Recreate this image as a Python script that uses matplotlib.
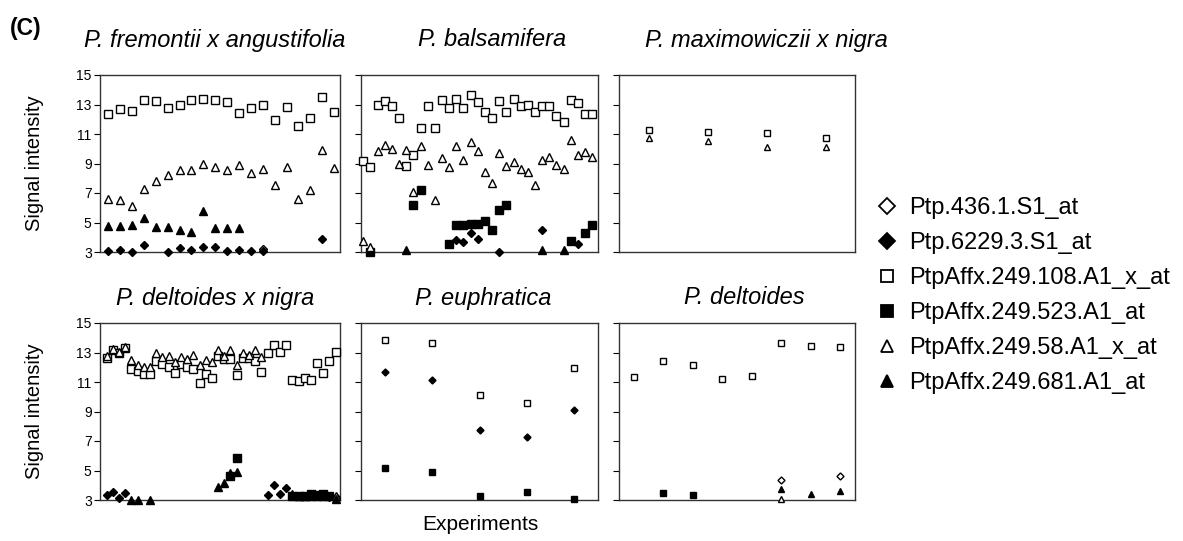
import numpy as np
import matplotlib
matplotlib.use("Agg")
import matplotlib.pyplot as plt
from matplotlib.lines import Line2D

plt.rcParams['font.family'] = ['Liberation Sans', 'DejaVu Sans']

nan = np.nan

# probe set names (legend order)
probes = ["Ptp.436.1.S1_at", "Ptp.6229.3.S1_at", "PtpAffx.249.108.A1_x_at",
          "PtpAffx.249.523.A1_at", "PtpAffx.249.58.A1_x_at", "PtpAffx.249.681.A1_at"]

titles = ["P. fremontii x angustifolia", "P. balsamifera", "P. maximowiczii x nigra",
          "P. deltoides x nigra", "P. euphratica", "P. deltoides"]

# --- P. fremontii x angustifolia (20 experiments)
fa_436 = [nan]*13 + [3.2] + [nan]*6
fa_6229 = [3.07, 3.15, 3.0, 3.5, nan, 3.0, 3.27, 3.15, 3.33, 3.37, 3.07, 3.15, 3.07, 3.07,
           nan, nan, nan, nan, 3.85, nan]
fa_108 = [12.33, 12.67, 12.58, 13.3, 13.23, 12.74, 13.0, 13.3, 13.37, 13.3, 13.14, 12.4,
          12.74, 13.0, 11.94, 12.83, 11.54, 12.1, 13.48, 12.5]
fa_523 = [nan]*20
fa_58 = [6.56, 6.5, 6.1, 7.3, 7.8, 8.2, 8.55, 8.55, 9.0, 8.77, 8.55, 8.9, 8.37, 8.6, 7.57,
         8.77, 6.56, 7.23, 9.9, 8.7]
fa_681 = [4.75, 4.75, 4.8, 5.3, 4.7, 4.7, 4.5, 4.35, 5.75, 4.6, 4.6, 4.6] + [nan]*8

# --- P. balsamifera (33 experiments)
ba_436 = [nan]*33
ba_6229 = [nan]*13 + [3.84, 3.68, 4.31, 3.91, nan, nan, 3.0, nan, nan, nan, nan, nan, 4.47,
                      nan, nan, nan, nan, 3.52, nan, nan]
ba_108 = [9.16, 8.77, 12.96, 13.23, 12.92, 12.1, 8.82, 9.57, 11.42, 12.92, 11.42, 13.3, 12.74,
          13.37, 12.74, 13.64, 13.14, 12.46, 12.1, 13.23, 12.5, 13.37, 12.92, 13.0, 12.5,
          12.92, 12.92, 12.24, 11.78, 13.3, 13.07, 12.35, 12.35]
ba_523 = [nan, 3.0, nan, nan, nan, nan, nan, 6.17, 7.19, nan, nan, nan, 3.57, 4.86, 4.86,
          4.93, 4.93, 5.08, 4.52, 5.83, 6.22, nan, nan, nan, nan, nan, nan, nan, nan, 3.73,
          nan, 4.29, 4.86]
ba_58 = [3.73, 3.34, 9.86, 10.25, 9.95, 9.0, 9.9, 7.08, 10.18, 8.93, 6.51, 9.34, 8.77, 10.18,
         9.23, 10.43, 9.86, 8.43, 7.71, 9.68, 8.82, 9.11, 8.6, 8.39, 7.53, 9.27, 9.41, 8.89,
         8.6, 10.59, 9.57, 9.79, 9.41]
ba_681 = [nan]*6 + [3.11] + [nan]*18 + [3.11, nan, nan, 3.11, nan, nan, nan, nan]

# --- P. maximowiczii x nigra (4 experiments)
mn_436 = [nan]*4
mn_6229 = [nan]*4
mn_108 = [11.3, 11.15, 11.05, 10.75]
mn_523 = [nan]*4
mn_58 = [10.75, 10.55, 10.1, 10.1]
mn_681 = [nan]*4

# --- P. deltoides x nigra (38 experiments)
dn_436 = [nan]*37 + [3.2]
dn_6229 = [3.37, 3.51, 3.15, 3.45] + [nan]*22 + [3.33, 4.0, 3.4, 3.83] + [nan]*6 + [3.2, nan]
dn_108 = [12.62, 13.14, 12.96, 13.3, 11.9, 11.72, 11.56, 11.56, 12.4, 12.24, 12.0, 11.6,
          12.24, 12.05, 11.9, 10.92, 11.53, 11.26, 12.73, 12.57, 12.57, 11.49, 12.62, 12.62,
          12.4, 11.67, 12.96, 13.48, 13.03, 13.48, 11.15, 11.04, 11.26, 11.15, 12.28, 11.6,
          12.44, 13.03]
dn_523 = [nan]*20 + [4.65, 5.85] + [nan]*8 + [3.25, 3.25, 3.3, 3.4, 3.35, 3.4, 3.3, nan]
dn_58 = [12.73, 13.23, 13.03, 13.37, 12.46, 12.12, 12.0, 12.0, 12.96, 12.69, 12.78, 12.35,
         12.69, 12.57, 12.85, 12.12, 12.5, 12.35, 13.14, 12.75, 13.14, 12.16, 12.96, 12.85,
         13.14, 12.69] + [nan]*11 + [3.3]
dn_681 = [nan, nan, nan, nan, 3.0, 3.0, nan, 3.0] + [nan]*10 + [3.9, 4.13, 4.81, 4.92] \
         + [nan]*8 + [3.4, 3.3, 3.3, 3.3, 3.3, 3.3, nan, 3.05]

# --- P. euphratica (5 experiments)
eu_436 = [nan]*5
eu_6229 = [11.65, 11.15, 7.76, 7.26, 9.11]
eu_108 = [13.87, 13.64, 10.13, 9.57, 11.94]
eu_523 = [5.15, 4.93, 3.3, 3.52, 3.05]
eu_58 = [nan]*5
eu_681 = [nan]*5

# --- P. deltoides (8 experiments)
de_436 = [nan]*5 + [4.36, nan, 4.65]
de_6229 = [nan]*8
de_108 = [11.31, 12.44, 12.12, 11.22, 11.38, 13.64, 13.42, 13.35]
de_523 = [nan, 3.45, 3.34, nan, nan, nan, nan, nan]
de_58 = [nan]*5 + [3.05, nan, nan]
de_681 = [nan]*5 + [3.73, 3.41, 3.63]

panels = [
    [fa_436, fa_6229, fa_108, fa_523, fa_58, fa_681],
    [ba_436, ba_6229, ba_108, ba_523, ba_58, ba_681],
    [mn_436, mn_6229, mn_108, mn_523, mn_58, mn_681],
    [dn_436, dn_6229, dn_108, dn_523, dn_58, dn_681],
    [eu_436, eu_6229, eu_108, eu_523, eu_58, eu_681],
    [de_436, de_6229, de_108, de_523, de_58, de_681],
]

# marker style per probe: (marker, filled)
styles = [("D", False), ("D", True), ("s", False), ("s", True), ("^", False), ("^", True)]

W, H = 1183, 541
fig = plt.figure(figsize=(W / 100, H / 100), dpi=100)

# axes boxes in pixels: left, right, top, bottom
cols = [(100, 340), (361, 598), (619, 855)]
rows = [(75, 252), (323, 500)]
xlims = [(0.3, 20.5), (0.68, 33.8), (0.5, 4.5), (-0.09, 38.7), (0.5, 5.5), (0.5, 8.5)]
msizes = [5.2, 5.2, 4.2, 5.2, 4.2, 4.2]
title_pos = [(215, 40), (492, 40), (766, 40), (215, 298), (483, 298), (744, 298)]

for k, series in enumerate(panels):
    r, c = divmod(k, 3)
    l, rr = cols[c]
    t, b = rows[r]
    ax = fig.add_axes([l / W, 1 - b / H, (rr - l) / W, (b - t) / H])
    for (mk, filled), vals in zip(styles, series):
        y = np.array(vals, dtype=float)
        x = np.arange(1, len(y) + 1)
        ms = msizes[k] * (0.85 if mk == "D" else 1.0)
        ax.plot(x, y, linestyle="none", marker=mk, markersize=ms,
                markerfacecolor="black" if filled else "white",
                markeredgecolor="black", markeredgewidth=1.0, clip_on=False, zorder=3)
    ax.set_xlim(*xlims[k])
    ax.set_ylim(3, 15)
    ax.set_yticks(range(3, 16, 2))
    ax.set_xticks([])
    ax.tick_params(axis="y", direction="out", length=4, width=0.8, pad=2,
                   labelsize=10, labelleft=(c == 0))
    for s in ax.spines.values():
        s.set_color("#333333")
        s.set_linewidth(1.0)
    tx, ty = title_pos[k]
    fig.text(tx / W, 1 - ty / H, titles[k], ha="center", va="center",
             fontsize=17, fontstyle="italic")

fig.text(35 / W, 1 - 163 / H, "Signal intensity", rotation=90, ha="center",
         va="center", fontsize=14.5)
fig.text(35 / W, 1 - 411 / H, "Signal intensity", rotation=90, ha="center",
         va="center", fontsize=14.5)
fig.text(480 / W, 1 - 524 / H, "Experiments", ha="center", va="center", fontsize=15)
fig.text(10 / W, 1 - 28 / H, "(C)", ha="left", va="center", fontsize=16.5,
         fontweight="bold")

handles = [Line2D([], [], linestyle="none", marker=mk, markersize=9 if mk != "D" else 8,
                  markerfacecolor="black" if filled else "white",
                  markeredgecolor="black", markeredgewidth=1.3)
           for mk, filled in styles]
fig.legend(handles, probes, loc="upper left", bbox_to_anchor=(878 / W, 1 - 197 / H),
           frameon=False, fontsize=17, labelspacing=0.55, handlelength=0.8,
           handletextpad=0.5, borderpad=0, borderaxespad=0)

fig.savefig("out.png", dpi=100)
